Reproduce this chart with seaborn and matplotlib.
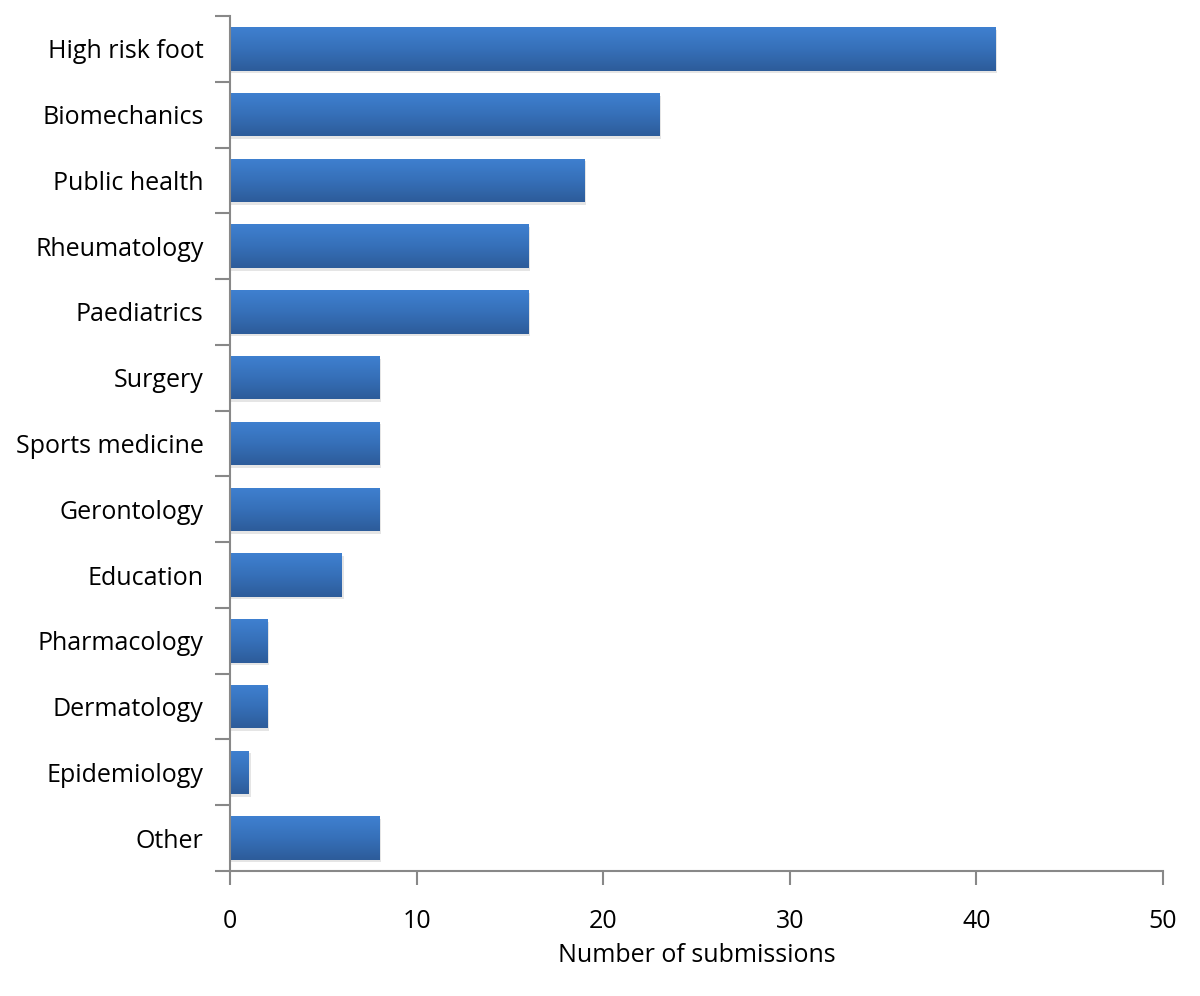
import numpy as np
import pandas as pd
import matplotlib
matplotlib.use("Agg")
import matplotlib.pyplot as plt
import seaborn as sns
from matplotlib.colors import LinearSegmentedColormap

# ---------------- DATA ----------------
categories = [
    "High risk foot", "Biomechanics", "Public health", "Rheumatology",
    "Paediatrics", "Surgery", "Sports medicine", "Gerontology",
    "Education", "Pharmacology", "Dermatology", "Epidemiology", "Other",
]
submissions = [41, 23, 19, 16, 16, 8, 8, 8, 6, 2, 2, 1, 8]

df = pd.DataFrame({"category": categories, "submissions": submissions})

sns.set_theme(style="white")
plt.rcParams["font.family"] = ["Open Sans", "DejaVu Sans"]

fig = plt.figure(figsize=(12, 9.96), dpi=100)
ax = fig.add_axes([230 / 1200, 1 - 871 / 996, (1163 - 230) / 1200, (871 - 16) / 996])

sns.barplot(data=df, x="submissions", y="category", color="#3a74c0",
            width=0.66, ax=ax, saturation=1)

# gradient fill on each bar
cmap = LinearSegmentedColormap.from_list("bar", ["#3f80d0", "#3670b9", "#2d5c9a"])
grad = np.linspace(0, 1, 64).reshape(-1, 1)
for p in ax.patches:
    x0, y0 = p.get_x(), p.get_y()
    w, h = p.get_width(), p.get_height()
    p.set_edgecolor("none")
    # faint shadow below/right of bar
    ax.add_patch(plt.Rectangle((x0, y0 + 0.04), w + 0.1, h, color="#d4d4d4",
                               alpha=0.6, zorder=1, lw=0))
    im = ax.imshow(grad, extent=(x0, x0 + w, y0 + h, y0), cmap=cmap,
                   aspect="auto", zorder=2, origin="upper")
    im.set_clip_path(p)

ax.set_xlim(0, 50)
ax.set_ylim(len(categories) - 0.5, -0.5)
ax.set_xticks([0, 10, 20, 30, 40, 50])

# category boundaries as ticks
ax.set_yticks(np.arange(-0.5, len(categories), 1), minor=True)
ax.tick_params(axis="y", which="major", length=0, pad=19, labelsize=18,
               labelcolor="black")
ax.tick_params(axis="y", which="minor", length=11, width=1.5, color="#888888",
               left=True)
ax.tick_params(axis="x", which="major", length=10, width=1.5, color="#888888",
               bottom=True, pad=17, labelsize=18, labelcolor="black")

for s in ["top", "right"]:
    ax.spines[s].set_visible(False)
for s in ["left", "bottom"]:
    ax.spines[s].set_color("#888888")
    ax.spines[s].set_linewidth(1.5)

ax.set_ylabel("")
ax.set_xlabel("Number of submissions", fontsize=18, color="black", labelpad=7)
ax.grid(False)

fig.savefig("out.png", dpi=100)
